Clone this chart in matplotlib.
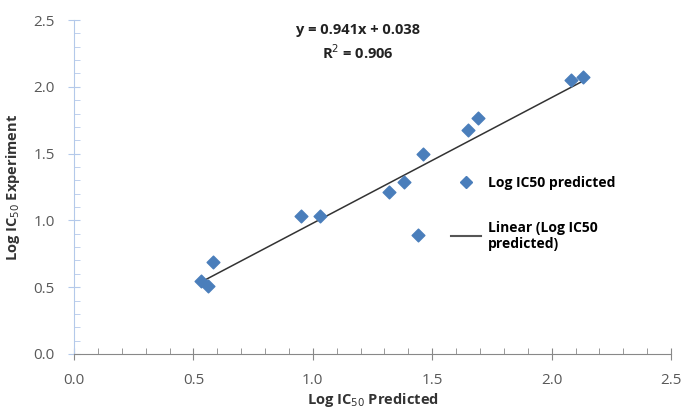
import numpy as np
import matplotlib.pyplot as plt
from matplotlib.lines import Line2D
from matplotlib.ticker import MultipleLocator

log_pred = [0.53, 0.56, 0.58, 0.95, 1.03, 1.32, 1.38, 1.44, 1.46, 1.65, 1.69, 2.08, 2.13]
log_exp = [0.55, 0.51, 0.69, 1.03, 1.03, 1.21, 1.29, 0.89, 1.50, 1.68, 1.77, 2.05, 2.07]
slope = 0.941
intercept = 0.038

plt.rcParams['font.family'] = ['Open Sans', 'DejaVu Sans']

fig = plt.figure(figsize=(6.82, 4.09), dpi=100)
ax = fig.add_axes([0.1085, 0.1345, 0.8755, 0.8165])

blue = '#4a7ebb'
ax.scatter(log_pred, log_exp, marker='D', s=42, color=blue, zorder=3)

xfit = np.array([min(log_pred), max(log_pred)])
ax.plot(xfit, slope * xfit + intercept, color='#333333', linewidth=1.1, zorder=2)

ax.set_xlim(0, 2.5)
ax.set_ylim(0, 2.5)
ax.xaxis.set_major_locator(MultipleLocator(0.5))
ax.xaxis.set_minor_locator(MultipleLocator(0.1))
ax.yaxis.set_major_locator(MultipleLocator(0.5))
ax.yaxis.set_minor_locator(MultipleLocator(0.1))
ax.xaxis.set_major_formatter(plt.FormatStrFormatter('%.1f'))
ax.yaxis.set_major_formatter(plt.FormatStrFormatter('%.1f'))

for s in ['top', 'right']:
    ax.spines[s].set_visible(False)
ax.spines['bottom'].set_color('#888888')
ax.spines['left'].set_color('#b4c9ea')

ax.tick_params(axis='x', which='major', direction='inout', length=8, color='#888888',
               labelsize=11, labelcolor='#595959', pad=10)
ax.tick_params(axis='x', which='minor', direction='in', length=4, color='#888888')
ax.tick_params(axis='y', which='major', direction='inout', length=8, color='#b4c9ea',
               labelsize=11, labelcolor='#595959', pad=10)
ax.tick_params(axis='y', which='minor', direction='in', length=4, color='#b4c9ea')

ax.set_xlabel('Log IC$_{50}$ Predicted', fontsize=10.5, fontweight='bold', color='#333333', labelpad=2)
ax.set_ylabel('Log IC$_{50}$ Experiment', fontsize=10.5, fontweight='bold', color='#333333', labelpad=8)

ax.text(1.19, 2.33, 'y = 0.941x + 0.038\nR$^2$ = 0.906', ha='center', va='center',
        fontsize=10.5, fontweight='bold', color='#222222', linespacing=1.4)

handles = [Line2D([], [], marker='D', linestyle='none', color=blue, markersize=6),
           Line2D([], [], color='#555555', linewidth=1.5)]
ax.legend(handles, ['Log IC50 predicted', 'Linear (Log IC50\npredicted)'],
          loc='upper left', bbox_to_anchor=(0.61, 0.57), frameon=False,
          prop={'weight': 'bold', 'size': 10}, labelspacing=2.2, handlelength=2.2,
          handletextpad=0.5)

fig.savefig('out.png', dpi=100)
